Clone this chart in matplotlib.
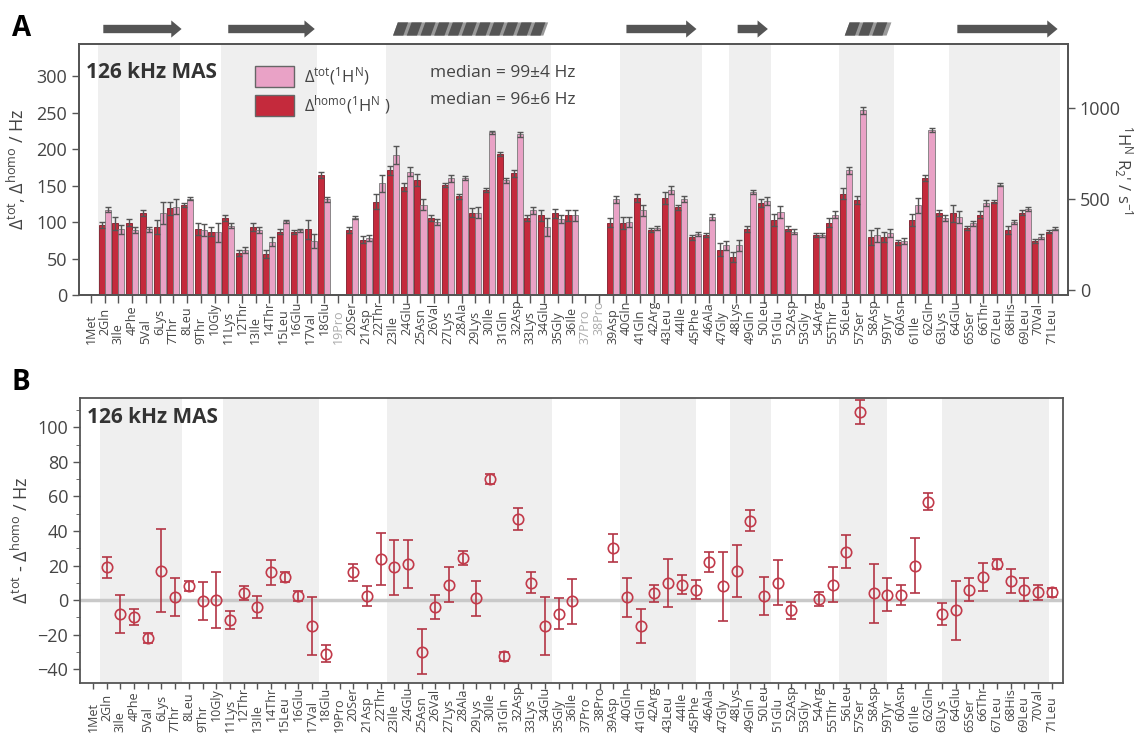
import numpy as np
import matplotlib.pyplot as plt
import matplotlib.transforms as mtransforms
from matplotlib.patches import FancyArrow, Polygon, Patch

plt.rcParams['font.family'] = ['Open Sans', 'DejaVu Sans']
plt.rcParams['mathtext.default'] = 'regular'

# ubiquitin residues
residues = ["1Met", "2Gln", "3Ile", "4Phe", "5Val", "6Lys", "7Thr", "8Leu", "9Thr", "10Gly",
            "11Lys", "12Thr", "13Ile", "14Thr", "15Leu", "16Glu", "17Val", "18Glu", "19Pro", "20Ser",
            "21Asp", "22Thr", "23Ile", "24Glu", "25Asn", "26Val", "27Lys", "28Ala", "29Lys", "30Ile",
            "31Gln", "32Asp", "33Lys", "34Glu", "35Gly", "36Ile", "37Pro", "38Pro", "39Asp", "40Gln",
            "41Gln", "42Arg", "43Leu", "44Ile", "45Phe", "46Ala", "47Gly", "48Lys", "49Gln", "50Leu",
            "51Glu", "52Asp", "53Gly", "54Arg", "55Thr", "56Leu", "57Ser", "58Asp", "59Tyr", "60Asn",
            "61Ile", "62Gln", "63Lys", "64Glu", "65Ser", "66Thr", "67Leu", "68His", "69Leu", "70Val",
            "71Leu"]
nan = np.nan

# Delta homo (1HN) / Hz
d_homo = [nan, 96, 98, 99, 112, 93, 119, 123, 90, 87,
          106, 58, 93, 56, 87, 86, 90, 164, nan, 89,
          76, 128, 171, 148, 158, 105, 151, 135, 113, 144,
          193, 167, 105, 109, 112, 109, nan, nan, 99, 99,
          133, 89, 133, 120, 79, 82, 62, 52, 90, 126,
          103, 91, nan, 82, 99, 139, 130, 79, 80, 72,
          103, 160, 112, 112, 92, 110, 128, 89, 113, 74,
          87]
d_homo_err = [nan, 4, 9, 5, 4, 10, 9, 3, 8, 6,
              4, 4, 5, 5, 3, 3, 13, 4, nan, 4,
              5, 10, 6, 5, 8, 4, 3, 4, 6, 3,
              3, 5, 4, 7, 6, 7, nan, nan, 6, 8,
              6, 3, 8, 4, 3, 3, 9, 7, 4, 6,
              8, 3, nan, 3, 6, 8, 5, 10, 7, 4,
              8, 4, 4, 12, 3, 5, 2, 5, 3, 3,
              2]
# Delta tot (1HN) / Hz
d_tot = [nan, 117, 90, 89, 90, 112, 121, 132, 89, 86,
         95, 62, 89, 73, 101, 89, 74, 131, nan, 106,
         78, 153, 192, 169, 124, 100, 160, 160, 113, 223,
         157, 220, 116, 93, 104, 109, nan, nan, 131, 100,
         116, 92, 144, 131, 84, 107, 68, 68, 141, 129,
         114, 87, nan, 82, 110, 171, 253, 82, 85, 74,
         123, 226, 105, 107, 98, 126, 151, 100, 118, 80,
         91]
d_tot_err = [nan, 3, 6, 4, 3, 15, 10, 2, 8, 13,
             3, 4, 4, 6, 2, 2, 10, 3, nan, 2,
             4, 12, 12, 6, 7, 4, 5, 3, 8, 2,
             3, 3, 5, 12, 6, 8, nan, nan, 5, 7,
             8, 3, 6, 4, 3, 4, 6, 8, 3, 5,
             8, 3, nan, 3, 5, 5, 5, 10, 6, 4,
             10, 3, 4, 8, 3, 4, 2, 3, 3, 3,
             2]
# Delta tot - Delta homo / Hz
d_diff = [nan, 19, -8, -10, -22, 17, 1.5, 8, -0.6, 0,
          -11.6, 4, -4, 16, 13.5, 2.3, -15, -31, nan, 16,
          2.3, 24, 19, 21, -30, -4, 9, 24.5, 1, 70,
          -32.5, 47, 10, -15, -8, -0.6, nan, nan, 30, 1.5,
          -15, 4, 10, 9, 6, 22, 8, 17, 46, 2.5,
          10, -6, nan, 0.6, 9, 28, 109, 4, 3, 3,
          20, 57, -8, -6, 6, 13.5, 21, 11, 6, 4.5,
          4.5]
d_diff_err = [nan, 6, 11, 4.6, 3, 24, 11, 3, 11, 16,
              5, 4, 6.5, 7, 3, 3, 17, 5, nan, 5,
              6, 15, 16, 14, 13, 7, 10, 4, 10, 3,
              2.5, 6.5, 6, 17, 9, 13, nan, nan, 8, 11.5,
              10, 5, 14, 5.5, 5.5, 6, 20, 15, 6, 11,
              13, 5, nan, 4, 10, 9.5, 7, 17, 9.5, 6,
              16, 5, 6.5, 17, 6.5, 8, 3, 7, 6.5, 4.5,
              2.5]

# secondary-structure regions (shaded) and cartoon elements
bands_a = [(1.5, 7.5), (10.5, 17.5), (22.5, 34.5), (39.5, 45.5), (47.5, 50.5), (55.5, 59.5), (63.5, 71.6)]
bands_b = [(1.5, 7.5), (10.5, 17.5), (22.5, 34.5), (39.5, 45.0), (47.5, 50.5), (55.5, 59.0), (63.0, 70.8)]
strands = [(1.9, 7.6), (11.0, 17.3), (40.0, 45.1), (48.1, 50.3), (64.1, 71.4)]
helices = [(23.0, 34.3), (55.9, 59.3)]

red = '#c42a3c'
pink = '#e9a2c6'
red_pt = '#c23a4a'
grey_txt = '#444444'
frame = '#555555'

x = np.arange(1, len(residues) + 1)

W, H = 1145, 744
fig = plt.figure(figsize=(W / 100, H / 100), dpi=100)
ax_a = fig.add_axes([79 / W, 1 - 295 / H, (1068 - 79) / W, 251 / H])
ax_b = fig.add_axes([80 / W, 1 - 683 / H, (1063 - 80) / W, 285 / H])
ax_ss = fig.add_axes([79 / W, 1 - 40 / H, (1068 - 79) / W, 22 / H], sharex=ax_a)


def style_axes(ax):
    for sp in ax.spines.values():
        sp.set_color(frame)
        sp.set_linewidth(1.3)
    ax.tick_params(colors=frame, labelcolor=grey_txt, labelsize=13, width=1, length=5)


def residue_labels(ax, y_even, y_odd, light=()):
    trans = mtransforms.blended_transform_factory(ax.transData, ax.transAxes)
    for i, name in zip(x, residues):
        y = y_even if i % 2 == 0 else y_odd
        ax.text(i, y, name, transform=trans, rotation=90, ha='center', va='bottom',
                fontsize=9, color='#aaaaaa' if i in light else grey_txt, clip_on=False,
                family=['Liberation Sans Narrow', 'Open Sans', 'DejaVu Sans'])


# ---- panel A: bars ----
for a, b in bands_a:
    ax_a.axvspan(a, b, color='#efefef', lw=0, zorder=0)
w = 0.44
ekw = dict(ecolor='#555555', elinewidth=1, capsize=2, capthick=1)
ax_a.bar(x - w / 2, d_homo, w, yerr=d_homo_err, color=red, edgecolor='#7d1a28', linewidth=0.6,
         error_kw=ekw, zorder=2)
ax_a.bar(x + w / 2, d_tot, w, yerr=d_tot_err, color=pink, edgecolor='#7a7a7a', linewidth=0.6,
         error_kw=ekw, zorder=2)
ax_a.set_xlim(0.13, 72.16)
ax_a.set_ylim(0, 344)
ax_a.set_yticks(np.arange(0, 301, 50))
ax_a.set_xticks(x)
style_axes(ax_a)
ax_a.tick_params(axis='x', labelbottom=False, length=6)
ax_a.set_ylabel(r'$\Delta^{tot}$, $\Delta^{homo}$ / Hz', fontsize=13, color=grey_txt, labelpad=6)
residue_labels(ax_a, -0.158, -0.197, light=(19, 37, 38))

ax_r = ax_a.twinx()
ax_r.set_ylim(-30, 1350)
ax_r.set_yticks([0, 500, 1000])
style_axes(ax_r)
ax_r.set_ylabel(r"$^{1}$H$^{N}$ R$_{2}$' / s$^{-1}$", fontsize=12, color=grey_txt,
                rotation=270, labelpad=10)

ax_a.text(0.007, 0.885, '126 kHz MAS', transform=ax_a.transAxes, fontsize=15,
          fontweight='bold', color='#333333', va='center')
leg = ax_a.legend(handles=[Patch(facecolor=pink, edgecolor='#666666'),
                           Patch(facecolor=red, edgecolor='#666666')],
                  labels=[r'$\Delta^{tot}$($^{1}$H$^{N}$)', r'$\Delta^{homo}$($^{1}$H$^{N}$ )'],
                  loc='upper left', bbox_to_anchor=(0.163, 0.975), frameon=False,
                  fontsize=12, handlelength=2.3, handleheight=1.6, labelspacing=0.35,
                  handletextpad=0.6, labelcolor=grey_txt)
ax_a.text(0.355, 0.885, 'median = 99\u00b14 Hz', transform=ax_a.transAxes, fontsize=12.5,
          color=grey_txt, va='center')
ax_a.text(0.355, 0.775, 'median = 96\u00b16 Hz', transform=ax_a.transAxes, fontsize=12.5,
          color=grey_txt, va='center')

# ---- secondary structure cartoon ----
ax_ss.set_ylim(0, 1)
ax_ss.axis('off')
ss_col = '#555555'
for a, b in strands:
    ax_ss.add_patch(FancyArrow(a, 0.5, b - a, 0, width=0.38, head_width=0.78,
                               head_length=0.75, length_includes_head=True,
                               color=ss_col, lw=0))
for a, b in helices:
    ax_ss.add_patch(Polygon([(a, 0.2), (b - 0.35, 0.2), (b, 0.8), (a + 0.35, 0.8)],
                            closed=True, color='#9a9a9a', lw=0))
    k = a
    while k + 0.75 < b:
        ax_ss.add_patch(Polygon([(k, 0.2), (k + 0.75, 0.2), (k + 1.1, 0.8), (k + 0.35, 0.8)],
                                closed=True, color=ss_col, lw=0))
        k += 1.0

# ---- panel B: difference ----
for a, b in bands_b:
    ax_b.axvspan(a, b, color='#efefef', lw=0, zorder=0)
ax_b.axhline(0, color='#c9c9c9', lw=2.5, zorder=1)
ax_b.errorbar(x, d_diff, yerr=d_diff_err, fmt='o', mfc='none', mec=red_pt, ms=7.5, mew=1.2,
              ecolor='#b33545', elinewidth=1.2, capsize=3.5, capthick=1.2, zorder=3)
ax_b.set_xlim(0.05, 71.83)
ax_b.set_ylim(-48, 117)
ax_b.set_yticks(np.arange(-40, 101, 20))
ax_b.set_yticks(np.arange(-40, 111, 10), minor=True)
ax_b.set_xticks(x)
style_axes(ax_b)
ax_b.tick_params(axis='y', which='minor', length=3, color=frame)
ax_b.tick_params(axis='x', labelbottom=False, length=4)
ax_b.set_ylabel(r'$\Delta^{tot}$ - $\Delta^{homo}$ / Hz', fontsize=13, color=grey_txt, labelpad=4)
residue_labels(ax_b, -0.135, -0.172)
ax_b.text(0.007, 0.93, '126 kHz MAS', transform=ax_b.transAxes, fontsize=15,
          fontweight='bold', color='#333333', va='center')

fig.text(12 / W, 1 - 29 / H, 'A', fontsize=20, fontweight='bold', va='center')
fig.text(12 / W, 1 - 382 / H, 'B', fontsize=20, fontweight='bold', va='center')

fig.savefig('out.png', dpi=100)
